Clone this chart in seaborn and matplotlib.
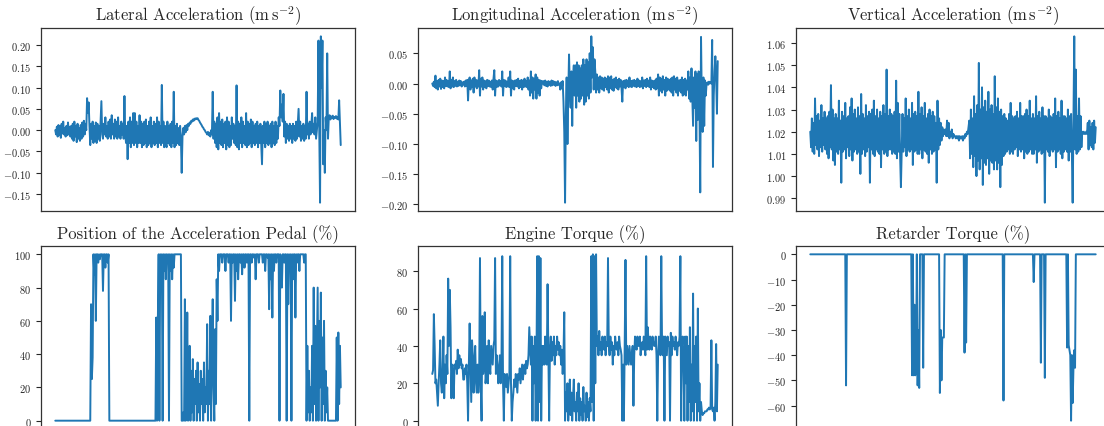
import numpy as np
import seaborn as sns
import matplotlib
matplotlib.use("Agg")
import matplotlib.pyplot as plt
from matplotlib.ticker import MultipleLocator

# values
lateral = [
    0.000, -0.010, 0.008, -0.015, 0.012, -0.012, 0.010, -0.018, 0.015, -0.008, 0.020, -0.010, 0.005, -0.015, 0.010, -0.012, 0.018, -0.010, 0.008, -0.015,
    0.010, -0.020, 0.015, -0.025, 0.020, -0.015, 0.010, -0.028, 0.015, -0.020, 0.005, -0.025, 0.012, -0.020, 0.018, -0.015, 0.022, -0.010, 0.015, 0.000,
    0.075, 0.040, 0.065, 0.010, -0.035, 0.015, -0.020, 0.020, -0.030, 0.010, -0.025, 0.018, -0.030, 0.015, -0.020, 0.010, -0.025, 0.020, 0.068, -0.010,
    -0.020, 0.015, -0.010, 0.030, -0.015, 0.010, -0.020, 0.020, -0.015, 0.025, -0.020, 0.035, -0.010, 0.015, -0.020, 0.025, -0.015, 0.020, -0.020, 0.030,
    -0.015, 0.010, -0.020, 0.020, -0.010, 0.015, -0.020, 0.080, -0.010, -0.030, 0.010, -0.068, 0.020, -0.030, 0.030, -0.040, 0.020, -0.030, 0.040, -0.035,
    0.040, -0.030, 0.020, -0.040, 0.010, -0.030, 0.035, -0.030, 0.020, -0.040, 0.015, -0.035, 0.020, -0.030, 0.025, -0.040, 0.010, -0.035, 0.020, -0.030,
    0.030, -0.040, 0.010, -0.030, 0.020, -0.035, 0.015, -0.030, 0.030, -0.040, 0.020, -0.030, 0.010, -0.035, 0.106, -0.030, 0.020, -0.040, 0.010, -0.030,
    -0.040, 0.020, -0.030, 0.010, -0.035, 0.015, -0.040, 0.020, -0.030, 0.090, -0.040, 0.010, -0.035, 0.015, -0.030, 0.005, -0.035, 0.010, -0.020, -0.100,
    -0.015, 0.005, -0.010, 0.010, -0.005, 0.012, 0.000, 0.015, 0.010, 0.018, 0.015, 0.022, 0.020, 0.025, 0.022, 0.027, 0.025, 0.028, 0.026, 0.028,
    0.024, 0.022, 0.018, 0.015, 0.012, 0.008, 0.006, 0.002, 0.000, -0.004, -0.006, -0.010, -0.004, -0.012, -0.006, -0.015, 0.000, -0.010, 0.090, -0.020,
    0.020, -0.030, 0.015, -0.040, 0.030, -0.045, 0.040, -0.030, 0.020, -0.035, 0.025, -0.040, 0.015, -0.030, 0.020, -0.045, 0.030, -0.035, 0.020, -0.040,
    0.010, -0.035, 0.030, -0.020, 0.015, -0.030, 0.010, -0.035, 0.105, -0.040, 0.020, -0.045, 0.015, -0.030, 0.030, -0.040, 0.020, -0.030, 0.010, -0.035,
    0.040, -0.040, 0.020, -0.035, 0.015, -0.030, 0.025, -0.040, 0.020, -0.030, 0.010, -0.035, 0.015, -0.030, 0.020, -0.040, 0.010, -0.030, 0.015, -0.035,
    -0.080, 0.010, -0.030, 0.020, -0.040, 0.015, -0.030, 0.020, -0.035, 0.010, -0.030, 0.015, -0.040, 0.020, -0.030, 0.010, -0.035, 0.020, -0.030, 0.010,
    -0.020, 0.030, 0.010, 0.093, 0.030, 0.060, 0.020, 0.085, -0.015, 0.020, -0.030, 0.015, -0.020, 0.010, -0.025, 0.015, -0.020, 0.010, -0.030, 0.015,
    -0.020, 0.010, -0.025, 0.020, -0.020, 0.015, 0.050, -0.015, 0.020, -0.025, 0.010, -0.020, 0.015, -0.025, 0.010, -0.020, 0.090, -0.010, 0.015, -0.020,
    0.020, -0.010, 0.010, 0.040, -0.005, 0.015, -0.010, 0.030, -0.020, 0.000, 0.020, 0.210, 0.000, -0.170, 0.220, 0.100, 0.210, -0.080, 0.000, -0.100,
    0.030, 0.000, 0.180, -0.020, 0.030, 0.035, 0.025, 0.032, 0.028, 0.034, 0.026, 0.031, 0.029, 0.033, 0.027, 0.030, 0.025, 0.070, 0.020, -0.035,
]

longitudinal = [
    0.000, -0.004, 0.003, -0.006, 0.013, -0.008, 0.004, -0.010, 0.006, -0.005, 0.008, -0.009, 0.005, -0.006, 0.004, -0.008, 0.010, -0.004, 0.006, -0.005,
    0.004, -0.006, 0.020, -0.008, 0.006, -0.005, 0.010, -0.006, 0.004, -0.004, 0.006, -0.005, 0.003, -0.004, 0.005, -0.003, 0.004, -0.005, 0.002, -0.002,
    0.003, -0.005, 0.005, -0.004, 0.006, -0.028, 0.004, 0.010, -0.010, 0.005, -0.006, 0.008, -0.015, 0.010, -0.005, 0.006, -0.008, 0.005, -0.005, 0.022,
    -0.020, 0.008, -0.005, 0.010, -0.010, 0.005, -0.006, 0.004, -0.008, 0.006, -0.004, 0.005, -0.005, 0.003, -0.006, 0.005, -0.010, 0.008, 0.022, -0.020,
    0.005, -0.006, 0.004, -0.005, 0.006, -0.003, 0.004, -0.005, 0.020, -0.020, 0.006, -0.004, 0.005, -0.006, 0.003, -0.005, 0.010, -0.006, 0.020, -0.020,
    0.005, -0.008, 0.004, -0.010, 0.005, -0.004, 0.006, -0.005, 0.008, -0.008, 0.004, -0.006, 0.006, -0.010, 0.005, -0.006, 0.008, -0.005, 0.004, -0.006,
    0.010, -0.010, 0.005, -0.020, 0.020, -0.015, 0.010, -0.025, 0.008, -0.010, 0.015, -0.025, 0.010, -0.015, 0.006, -0.020, 0.005, -0.008, 0.004, 0.000,
    0.004, -0.003, 0.005, -0.004, 0.003, -0.005, 0.004, -0.002, 0.003, -0.004, 0.005, -0.003, 0.004, -0.002, 0.003, -0.004, 0.002, -0.003, 0.004, -0.002,
    0.000, -0.010, 0.002, -0.008, 0.004, -0.030, -0.080, -0.197, -0.050, 0.010, -0.100, -0.020, 0.048, -0.010, -0.040, 0.020, -0.070, 0.010, 0.030, -0.020,
    0.030, -0.040, 0.035, -0.020, 0.030, -0.030, 0.025, -0.025, 0.030, -0.020, 0.040, -0.035, 0.030, -0.030, 0.040, -0.020, 0.035, -0.025, 0.050, -0.015,
    0.078, 0.010, 0.060, -0.010, 0.040, 0.020, -0.015, 0.015, -0.010, 0.010, -0.015, 0.012, -0.008, 0.010, -0.010, 0.008, -0.012, 0.010, -0.006, 0.008,
    -0.010, 0.012, -0.015, 0.010, -0.008, 0.012, -0.010, 0.006, -0.012, 0.008, -0.006, 0.010, -0.008, 0.006, -0.010, 0.008, -0.005, 0.006, -0.008, -0.030,
    0.004, -0.006, 0.005, -0.008, 0.006, -0.004, 0.005, -0.006, 0.010, -0.005, 0.004, -0.006, 0.005, -0.004, 0.006, -0.005, 0.004, -0.006, 0.008, -0.004,
    0.005, -0.006, 0.004, -0.005, 0.010, -0.008, 0.005, -0.004, 0.006, -0.006, 0.008, -0.004, 0.005, -0.006, 0.010, -0.010, 0.005, -0.006, 0.004, -0.008,
    0.005, -0.010, 0.008, -0.008, 0.015, -0.020, 0.010, -0.012, 0.008, -0.015, 0.012, -0.010, 0.006, -0.020, 0.010, -0.012, 0.008, -0.010, 0.006, -0.012,
    0.008, -0.015, 0.010, -0.020, 0.012, -0.010, 0.008, -0.015, 0.010, -0.020, 0.005, -0.012, 0.006, -0.015, 0.010, -0.020, 0.006, -0.018, 0.008, -0.020,
    0.005, -0.010, 0.020, -0.025, 0.010, -0.030, 0.025, -0.020, -0.070, 0.010, -0.040, 0.020, -0.095, 0.015, -0.060, 0.020, -0.040, -0.180, 0.077, -0.030,
    -0.080, 0.010, -0.070, 0.005, -0.020, 0.000, 0.002, -0.002, 0.003, 0.000, 0.002, 0.000, 0.072, -0.138, -0.020, 0.020, 0.045, 0.010, -0.050, 0.037,
]

vertical = [
    1.020, 1.013, 1.026, 1.011, 1.024, 1.010, 1.035, 1.014, 1.027, 1.012, 1.028, 1.009, 1.025, 1.013, 1.032, 1.011, 1.026, 1.014, 1.029, 1.012,
    1.026, 1.010, 1.027, 1.008, 1.029, 1.013, 1.041, 1.012, 1.030, 1.007, 1.026, 1.005, 1.028, 1.011, 1.026, 1.010, 1.034, 1.012, 1.025, 0.997,
    1.029, 1.011, 1.027, 1.012, 1.033, 1.008, 1.026, 1.013, 1.027, 1.009, 1.031, 1.012, 1.035, 1.007, 1.028, 1.011, 1.030, 1.012, 1.026, 1.010,
    1.031, 1.011, 1.027, 1.001, 1.037, 1.010, 1.028, 1.012, 1.026, 1.009, 1.032, 1.011, 1.027, 1.013, 1.029, 0.997, 1.028, 1.012, 1.030, 1.010,
    1.034, 1.009, 1.027, 1.012, 1.030, 1.011, 1.026, 1.010, 1.029, 1.004, 1.027, 1.012, 1.032, 1.010, 1.028, 1.011, 1.048, 1.009, 1.027, 1.012,
    1.030, 1.012, 1.028, 1.010, 1.027, 1.011, 1.029, 1.010, 1.043, 1.008, 1.033, 1.011, 1.028, 1.009, 0.995, 1.012, 1.028, 1.011, 1.026, 1.013,
    1.035, 1.009, 1.027, 1.012, 1.030, 1.011, 1.026, 1.012, 1.033, 1.005, 1.028, 1.011, 1.029, 1.012, 1.027, 1.010, 1.038, 1.010, 1.028, 1.012,
    1.031, 1.008, 1.027, 1.012, 1.033, 1.011, 1.026, 1.010, 1.028, 1.006, 1.030, 1.012, 1.027, 1.010, 1.029, 1.011, 1.027, 1.012, 1.024, 0.997,
    1.034, 1.012, 1.026, 1.014, 1.024, 1.016, 1.022, 1.018, 1.021, 1.019, 1.021, 1.018, 1.025, 1.018, 1.024, 1.017, 1.020, 1.018, 1.021, 1.017,
    1.019, 1.018, 1.018, 1.017, 1.018, 1.017, 1.018, 1.016, 1.018, 1.017, 1.017, 1.018, 1.016, 1.018, 1.017, 1.019, 1.018, 1.020, 1.019, 1.022,
    1.025, 1.008, 1.030, 1.010, 1.026, 1.004, 1.036, 1.009, 1.028, 1.000, 1.032, 1.007, 1.051, 1.003, 1.030, 1.008, 1.040, 0.996, 1.031, 1.006,
    1.034, 1.005, 1.029, 1.008, 1.038, 1.001, 1.030, 1.007, 1.032, 1.006, 1.028, 1.003, 1.045, 1.007, 1.031, 1.003, 1.035, 1.006, 1.029, 0.995,
    1.030, 1.005, 1.027, 1.009, 1.028, 1.010, 1.026, 1.011, 1.025, 1.012, 1.028, 1.010, 1.033, 1.011, 1.027, 1.010, 1.026, 1.012, 1.027, 1.013,
    1.029, 1.009, 1.026, 1.012, 1.033, 1.011, 1.027, 1.012, 1.027, 1.008, 1.028, 1.011, 1.030, 1.010, 1.027, 1.011, 1.034, 1.012, 1.026, 1.010,
    1.028, 1.010, 1.026, 1.012, 1.036, 1.006, 1.027, 1.011, 1.029, 1.012, 1.026, 1.010, 1.031, 1.011, 1.027, 0.988, 1.027, 1.012, 1.026, 1.011,
    1.030, 1.009, 1.027, 1.012, 1.026, 1.011, 1.028, 1.012, 1.035, 1.004, 1.027, 1.011, 1.029, 1.012, 1.026, 1.010, 1.034, 1.008, 1.027, 1.011,
    1.027, 1.012, 1.026, 1.011, 1.030, 1.007, 1.027, 1.011, 1.028, 1.010, 0.988, 1.028, 1.063, 1.012, 1.048, 1.010, 1.027, 1.011, 1.035, 1.012,
    1.027, 1.013, 1.020, 1.019, 1.020, 1.019, 1.019, 1.020, 1.019, 1.024, 1.012, 1.025, 1.014, 1.022, 1.013, 1.024, 1.012, 1.025, 1.015, 1.022,
]

pedal = [
    0, 0, 0, 0, 0, 0, 0, 0, 0, 0, 0, 0, 0, 0, 0, 0, 0, 0, 0, 0,
    0, 0, 0, 0, 0, 0, 0, 0, 0, 0, 0, 0, 0, 0, 0, 0, 0, 0, 0, 0,
    0, 0, 0, 0, 0, 70, 25, 38, 100, 88, 100, 60, 100, 100, 95, 100, 97, 100, 100, 100,
    78, 100, 100, 92, 100, 100, 95, 100, 0, 0, 0, 0, 0, 0, 0, 0, 0, 0, 0, 0,
    0, 0, 0, 0, 0, 0, 0, 0, 0, 0, 0, 0, 0, 0, 0, 0, 0, 0, 0, 0,
    0, 0, 0, 0, 0, 0, 0, 0, 0, 0, 0, 0, 0, 0, 0, 0, 0, 0, 0, 0,
    0, 0, 0, 0, 0, 0, 0, 62, 0, 60, 100, 0, 100, 80, 100, 0, 100, 90, 100, 85,
    100, 95, 100, 0, 100, 90, 100, 85, 100, 92, 100, 100, 100, 100, 100, 100, 100, 100, 100, 0,
    0, 5, 0, 73, 0, 10, 65, 0, 20, 45, 0, 30, 5, 37, 0, 25, 10, 30, 0, 35,
    5, 22, 0, 30, 10, 25, 0, 35, 5, 20, 10, 58, 0, 30, 10, 63, 0, 40, 73, 20,
    0, 55, 10, 85, 60, 100, 90, 100, 100, 100, 95, 100, 100, 100, 90, 100, 100, 100, 95, 100,
    100, 60, 100, 95, 100, 100, 72, 100, 90, 100, 85, 100, 100, 95, 100, 88, 100, 100, 92, 100,
    100, 95, 100, 100, 0, 100, 100, 95, 100, 100, 98, 100, 85, 100, 100, 100, 95, 100, 100, 100,
    100, 95, 100, 100, 90, 100, 100, 98, 100, 67, 100, 85, 100, 62, 100, 90, 100, 100, 95, 100,
    100, 100, 0, 100, 95, 80, 100, 100, 95, 100, 100, 0, 100, 70, 100, 90, 100, 0, 100, 85,
    100, 100, 62, 100, 95, 100, 100, 90, 100, 100, 100, 100, 100, 95, 100, 100, 0, 45, 5, 30,
    0, 20, 5, 45, 0, 80, 10, 57, 0, 40, 80, 0, 60, 20, 77, 0, 50, 10, 60, 0,
    30, 5, 20, 0, 0, 0, 0, 0, 0, 0, 0, 0, 0, 0, 50, 0, 53, 10, 45, 20,
]

engine = [
    25, 27, 57, 40, 20, 22, 15, 8, 20, 30, 43, 20, 15, 25, 45, 12, 30, 20, 35, 25,
    76, 40, 70, 50, 12, 30, 25, 12, 30, 28, 32, 25, 38, 28, 35, 30, 33, 28, 30, 22,
    22, 28, 25, 30, 20, 0, 30, 52, 30, 10, 43, 35, 15, 30, 40, 20, 15, 30, 15, 25,
    87, 20, 0, 56, 25, 30, 58, 20, 25, 40, 20, 43, 30, 25, 40, 35, 30, 40, 43, 87,
    25, 35, 30, 20, 25, 35, 20, 30, 88, 20, 0, 25, 20, 18, 25, 15, 20, 25, 88, 20,
    0, 10, 15, 22, 18, 25, 20, 15, 25, 22, 28, 20, 25, 30, 22, 27, 30, 25, 32, 28,
    30, 35, 50, 40, 30, 45, 0, 40, 20, 45, 0, 30, 88, 0, 88, 10, 87, 0, 40, 30,
    40, 30, 45, 35, 30, 73, 35, 0, 38, 45, 32, 42, 35, 45, 30, 40, 35, 45, 38, 42,
    35, 40, 30, 38, 25, 35, 58, 0, 15, 5, 20, 0, 10, 22, 3, 15, 0, 12, 22, 5,
    10, 0, 15, 5, 20, 0, 12, 3, 10, 0, 18, 5, 8, 0, 15, 2, 10, 0, 12, 5,
    88, 10, 89, 0, 88, 20, 89, 40, 45, 35, 48, 38, 42, 35, 45, 40, 38, 45, 35, 42,
    40, 87, 40, 35, 45, 38, 42, 30, 40, 35, 45, 40, 38, 42, 35, 45, 40, 38, 35, 0,
    30, 0, 40, 86, 30, 40, 35, 30, 40, 35, 30, 35, 40, 8, 35, 45, 40, 38, 45, 40,
    40, 45, 35, 40, 42, 38, 45, 40, 35, 88, 38, 50, 42, 38, 45, 40, 38, 45, 42, 40,
    40, 45, 35, 0, 35, 45, 40, 35, 88, 40, 35, 45, 0, 45, 40, 35, 45, 40, 42, 0,
    47, 35, 45, 40, 42, 38, 45, 40, 35, 42, 40, 45, 88, 0, 40, 45, 30, 0, 45, 20,
    45, 0, 40, 10, 50, 0, 30, 5, 68, 0, 40, 10, 45, 0, 60, 5, 20, 0, 10, 5,
    3, 4, 4, 5, 5, 5, 6, 6, 7, 6, 7, 43, 6, 5, 7, 0, 10, 41, 5, 30,
]

retarder = [
    0, 0, 0, 0, 0, 0, 0, 0, 0, 0, 0, 0, 0, 0, 0, 0, 0, 0, 0, 0,
    0, 0, 0, 0, 0, 0, 0, 0, 0, 0, 0, 0, 0, 0, 0, 0, 0, 0, 0, 0,
    0, 0, 0, 0, 0, -52, 0, 0, 0, 0, 0, 0, 0, 0, 0, 0, 0, 0, 0, 0,
    0, 0, 0, 0, 0, 0, 0, 0, 0, 0, 0, 0, 0, 0, 0, 0, 0, 0, 0, 0,
    0, 0, 0, 0, 0, 0, 0, 0, 0, 0, 0, 0, 0, 0, 0, 0, 0, 0, 0, 0,
    0, 0, 0, 0, 0, 0, 0, 0, 0, 0, 0, 0, 0, 0, 0, 0, 0, 0, 0, 0,
    0, 0, 0, 0, 0, 0, 0, 0, -48, 0, -48, -20, -48, -46, 0, -52, -30, -53, 0, 0,
    0, 0, -45, 0, 0, 0, 0, 0, 0, 0, 0, 0, 0, 0, 0, 0, 0, 0, 0, 0,
    0, 0, 0, -55, -30, -50, -33, -33, -33, 0, 0, 0, 0, 0, 0, 0, 0, 0, 0, 0,
    0, 0, 0, 0, 0, 0, 0, 0, 0, 0, 0, 0, 0, 0, -39, 0, -35, 0, 0, 0,
    0, 0, 0, 0, 0, 0, 0, 0, 0, 0, 0, 0, 0, 0, 0, 0, 0, 0, 0, 0,
    0, 0, 0, 0, 0, 0, 0, 0, 0, 0, 0, 0, 0, 0, 0, 0, 0, 0, 0, 0,
    0, 0, 0, -58, 0, 0, 0, 0, 0, 0, 0, 0, 0, 0, 0, 0, 0, 0, 0, 0,
    0, 0, 0, 0, 0, 0, 0, 0, 0, 0, 0, 0, 0, 0, 0, 0, 0, 0, 0, 0,
    0, -11, 0, 0, 0, 0, 0, 0, 0, 0, -43, 0, 0, 0, 0, -49, 0, 0, 0, 0,
    0, 0, 0, 0, 0, 0, 0, 0, 0, 0, 0, 0, 0, 0, 0, 0, 0, 0, 0, 0,
    0, 0, 0, -37, 0, -36, -38, -40, -66, -40, -59, -45, -38, -45, 0, 0, 0, 0, 0, 0,
    0, 0, 0, 0, 0, 0, 0, 0, 0, 0, 0, 0, 0, 0, 0, 0, 0, 0, 0, 0,
]

titles = [
    r"Lateral Acceleration ($\mathrm{m\,s^{-2}}$)",
    r"Longitudinal Acceleration ($\mathrm{m\,s^{-2}}$)",
    r"Vertical Acceleration ($\mathrm{m\,s^{-2}}$)",
    r"Position of the Acceleration Pedal (%)",
    r"Engine Torque (%)",
    r"Retarder Torque (%)",
]
series = [lateral, longitudinal, vertical, pedal, engine, retarder]
steps = [0.05, 0.05, 0.01, 20, 20, 10]

sns.set_style("ticks")
plt.rcParams["font.family"] = "serif"
plt.rcParams["font.serif"] = ["cmr10"]
plt.rcParams["mathtext.fontset"] = "cm"
plt.rcParams["axes.formatter.use_mathtext"] = True
plt.rcParams["axes.unicode_minus"] = True

fig = plt.figure(figsize=(11.04, 4.27), dpi=100)

# the reference is a crop: right column and bottom row run past the edge
lefts = [41, 418, 796]
tops = [29, 247]
w, h = 314, 183
W, H = 1104, 427

for k, (vals, title) in enumerate(zip(series, titles)):
    r, c = divmod(k, 3)
    ax = fig.add_axes([lefts[c] / W, (H - tops[r] - h) / H, w / W, h / H])
    sns.lineplot(x=np.arange(len(vals)), y=vals, ax=ax, color="#1f77b4", linewidth=1.4)
    ax.set_title(title, fontsize=12)
    ax.set_xticks([])
    ax.yaxis.set_major_locator(MultipleLocator(steps[k]))
    ax.tick_params(axis="y", labelsize=7.5, length=3.5, width=0.8)
    for s in ax.spines.values():
        s.set_color("#333333")
        s.set_linewidth(0.9)

fig.savefig("out.png", dpi=100)
